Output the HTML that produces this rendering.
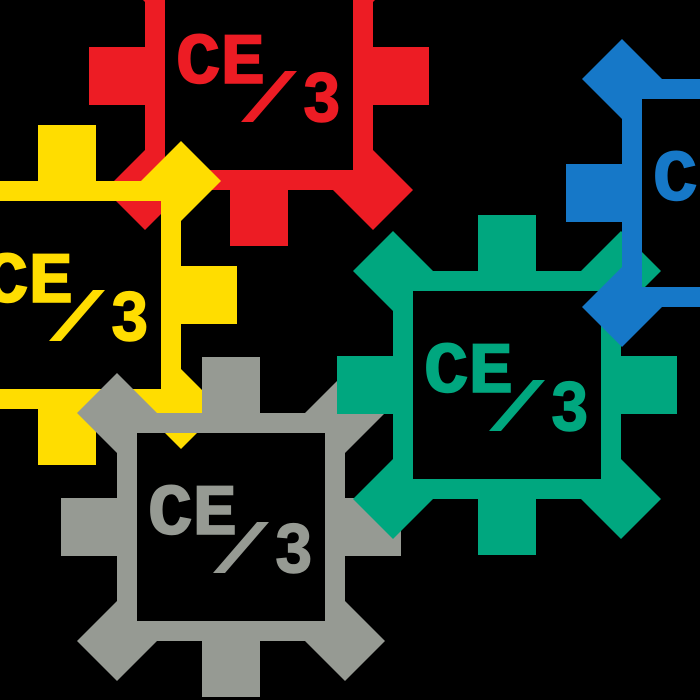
<!DOCTYPE html>
<html><head><meta charset="utf-8"><style>
html,body{margin:0;padding:0;background:#000;}
svg{display:block;}
text{font-family:"Liberation Mono",monospace;font-weight:bold;stroke:currentColor;stroke-width:1.5;}
</style></head><body>
<svg width="700" height="700" viewBox="0 0 700 700" xmlns="http://www.w3.org/2000/svg">
<rect width="700" height="700" fill="#000"/>
<defs>
<g id="gear">
<rect x="-104" y="-104" width="208" height="208" fill="none" stroke="currentColor" stroke-width="20"/>
<rect x="-29" y="-170" width="58" height="57" fill="currentColor"/>
<rect x="-29" y="113" width="58" height="57" fill="currentColor"/>
<rect x="-170" y="-29" width="57" height="58" fill="currentColor"/>
<rect x="113" y="-29" width="57" height="58" fill="currentColor"/>
<polygon points="-154,-114 -114,-154 -74,-114 -114,-74" fill="currentColor"/>
<polygon points="74,-114 114,-154 154,-114 114,-74" fill="currentColor"/>
<polygon points="-154,114 -114,74 -74,114 -114,154" fill="currentColor"/>
<polygon points="74,114 114,74 154,114 114,154" fill="currentColor"/>
<polygon points="-18,46 -6,46 38,-5 26,-5" fill="currentColor"/>
</g>
</defs>
<g style="color:#ED1C24" fill="#ED1C24" transform="translate(259,76)"><use href="#gear"/>
<text x="-83" y="7" font-size="72" textLength="89" lengthAdjust="spacingAndGlyphs">CE</text>
<text x="43" y="45" font-size="72" textLength="39" lengthAdjust="spacingAndGlyphs">3</text></g>
<g style="color:#FFDD00" fill="#FFDD00" transform="translate(67,295)"><use href="#gear"/>
<text x="-83" y="7" font-size="72" textLength="89" lengthAdjust="spacingAndGlyphs">CE</text>
<text x="43" y="45" font-size="72" textLength="39" lengthAdjust="spacingAndGlyphs">3</text></g>
<g style="color:#969A93" fill="#969A93" transform="translate(231,527)"><use href="#gear"/>
<text x="-83" y="7" font-size="72" textLength="89" lengthAdjust="spacingAndGlyphs">CE</text>
<text x="43" y="45" font-size="72" textLength="39" lengthAdjust="spacingAndGlyphs">3</text></g>
<g style="color:#00A77F" fill="#00A77F" transform="translate(507,385)"><use href="#gear"/>
<text x="-83" y="7" font-size="72" textLength="89" lengthAdjust="spacingAndGlyphs">CE</text>
<text x="43" y="45" font-size="72" textLength="39" lengthAdjust="spacingAndGlyphs">3</text></g>
<g style="color:#1678C8" fill="#1678C8" transform="translate(736,193)"><use href="#gear"/>
<text x="-83" y="7" font-size="72" textLength="89" lengthAdjust="spacingAndGlyphs">CE</text>
<text x="43" y="45" font-size="72" textLength="39" lengthAdjust="spacingAndGlyphs">3</text></g>
</svg>
</body></html>
